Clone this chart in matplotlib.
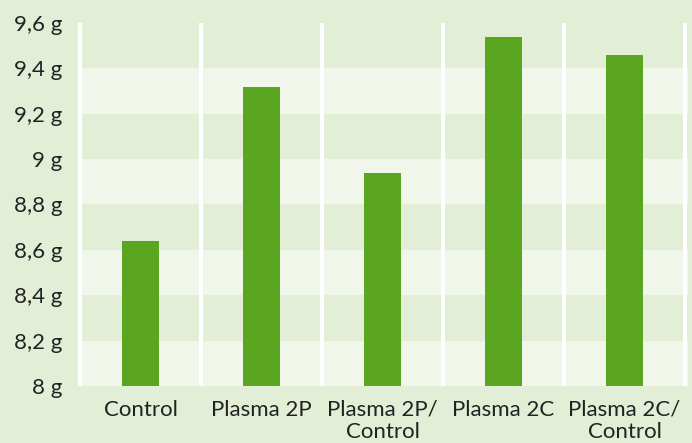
import matplotlib.pyplot as plt
import numpy as np

categories = ["Control", "Plasma 2P", "Plasma 2P/\nControl", "Plasma 2C", "Plasma 2C/\nControl"]
weights = [8.64, 9.32, 8.94, 9.54, 9.46]
y_ticks = [8.0, 8.2, 8.4, 8.6, 8.8, 9.0, 9.2, 9.4, 9.6]
y_labels = ["8 g", "8,2 g", "8,4 g", "8,6 g", "8,8 g", "9 g", "9,2 g", "9,4 g", "9,6 g"]

bg = "#e2eed6"
light = "#f0f6ea"
green = "#5aa620"
txt = "#222222"

plt.rcParams["font.family"] = ["Lato", "DejaVu Sans"]

fig = plt.figure(figsize=(6.92, 4.43), dpi=100, facecolor=bg)
ax = fig.add_axes([78 / 692, 1 - 386 / 443, (688 - 78) / 692, (386 - 23) / 443])
ax.set_facecolor(bg)

x = np.arange(len(categories))
ax.set_xlim(-0.5 - 2 / 121, len(categories) - 0.5 + 3 / 121)
ax.set_ylim(8.0, 9.6)

# lighter bands every other gridline interval
for lo in y_ticks[0:-1:2]:
    ax.axhspan(lo, lo + 0.2, color=light, lw=0, zorder=0)

# white separators between categories
for s in np.arange(-0.5, len(categories), 1.0):
    ax.axvline(s, color="white", lw=3, zorder=1)

ax.bar(x, [w - 8.0 for w in weights], bottom=8.0, width=0.305, color=green, zorder=2)

ax.set_yticks(y_ticks)
ax.set_yticklabels(y_labels)
ax.set_xticks(x)
ax.set_xticklabels(categories, linespacing=1.15)
ax.tick_params(axis="both", length=0, labelsize=16, colors=txt)
ax.tick_params(axis="y", pad=11)
ax.tick_params(axis="x", pad=10)

for sp in ax.spines.values():
    sp.set_visible(False)

fig.savefig("out.png", dpi=100, facecolor=bg)
